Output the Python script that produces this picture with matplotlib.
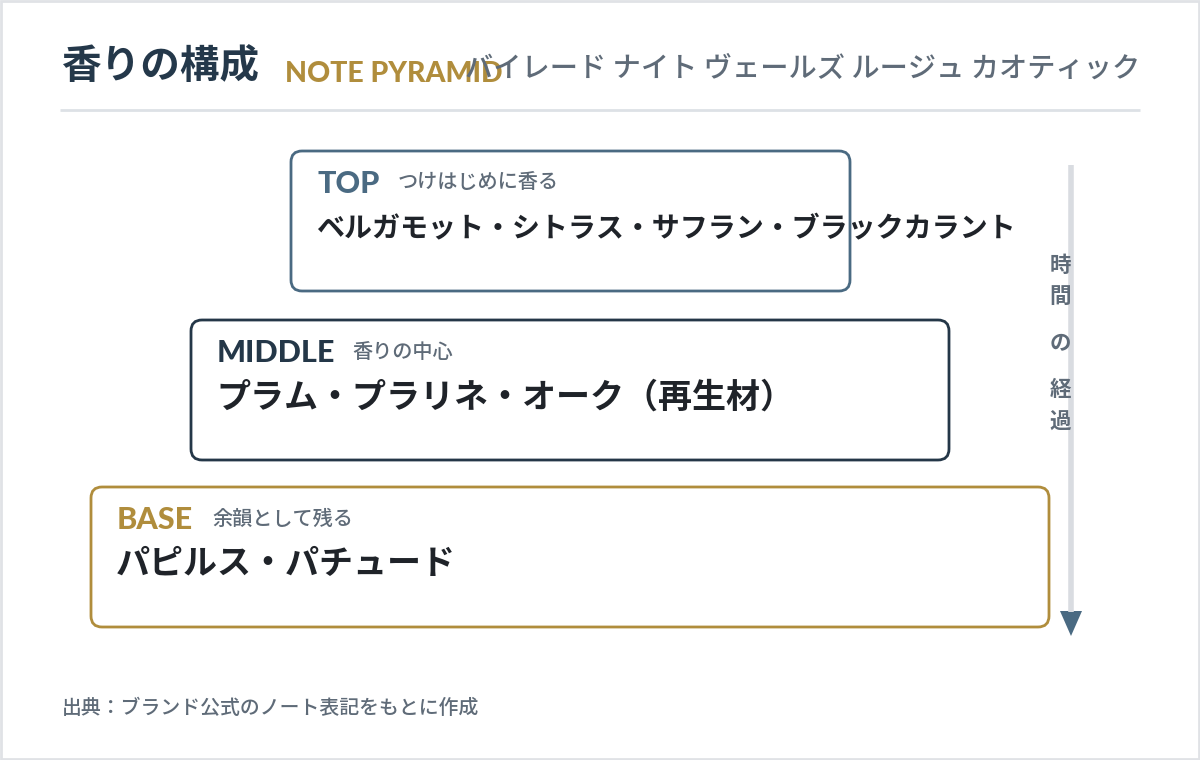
import matplotlib
matplotlib.use("Agg")
from matplotlib import pyplot as plt
from matplotlib.patches import FancyBboxPatch, Rectangle, Polygon

plt.rcParams['font.family'] = ['Noto Sans CJK JP', 'DejaVu Sans']

# data
title = "香りの構成"
title_en = "NOTE PYRAMID"
product = "バイレード ナイト ヴェールズ ルージュ カオティック"
tiers = ["TOP", "MIDDLE", "BASE"]
tier_desc = ["つけはじめに香る", "香りの中心", "余韻として残る"]
tier_notes = [
    "ベルガモット・シトラス・サフラン・ブラックカラント",
    "プラム・プラリネ・オーク（再生材）",
    "パピルス・パチュード",
]
time_label = ["時", "間", "の", "経", "過"]
source = "出典：ブランド公式のノート表記をもとに作成"

# styles
tier_colors = ["#4a6a82", "#243748", "#b08d3c"]
box_left = [291, 191, 91]
box_right = [850, 949, 1049]
box_top = [151, 320, 487]
box_h = 140
desc_x_off = [107, 161, 121]
note_size = [20.2, 24.5, 24.5]
gray = "#5f6b78"
dark = "#1f2329"
latin = ["Lato", "DejaVu Sans"]

fig = plt.figure(figsize=(12, 7.6), dpi=100)
ax = fig.add_axes([0, 0, 1, 1])
ax.set_xlim(0, 1200)
ax.set_ylim(760, 0)
ax.axis("off")

ax.add_patch(Rectangle((1, 1), 1198, 758, fill=False, edgecolor="#e0e2e6", lw=2))

# header
ax.text(61, 67, title, fontsize=28.5, fontweight="bold", color="#24384a", va="center")
ax.text(285, 74, title_en, fontsize=20.5, fontweight=900, color="#b08d3c",
        va="center", family=latin)
ax.text(1140, 68, product, fontsize=20.3, fontweight="medium", color=gray,
        va="center", ha="right")
ax.plot([60, 1140], [110, 110], color="#dde1e6", lw=2, solid_capstyle="butt")

# tiers
for i, name in enumerate(tiers):
    x0, y0 = box_left[i], box_top[i]
    ax.add_patch(FancyBboxPatch((x0, y0), box_right[i] - x0, box_h,
                                boxstyle="round,pad=0,rounding_size=11",
                                facecolor="white", edgecolor=tier_colors[i], lw=2))
    ax.text(x0 + 26, y0 + 33, name, fontsize=22, fontweight=900,
            color=tier_colors[i], va="center", family=latin)
    ax.text(x0 + desc_x_off[i], y0 + 32, tier_desc[i], fontsize=14.5,
            fontweight="medium", color=gray, va="center")
    ax.text(x0 + 25, y0 + 77, tier_notes[i], fontsize=note_size[i],
            fontweight="bold", color=dark, va="center")

# time arrow
ax.plot([1071, 1071], [165, 612], color="#d9dce1", lw=4, solid_capstyle="butt")
ax.add_patch(Polygon([[1060, 611], [1082, 611], [1071, 636]], closed=True,
                     facecolor="#4a6a82", edgecolor="none"))
label_y = [265, 296, 343, 390, 422]
for ch, y in zip(time_label, label_y):
    ax.text(1060, y, ch, fontsize=15.5, fontweight="bold", color=gray,
            ha="center", va="center")

# source
ax.text(62, 708, source, fontsize=14.3, fontweight="medium", color=gray, va="center")

fig.savefig("out.png", dpi=100, facecolor="white")
